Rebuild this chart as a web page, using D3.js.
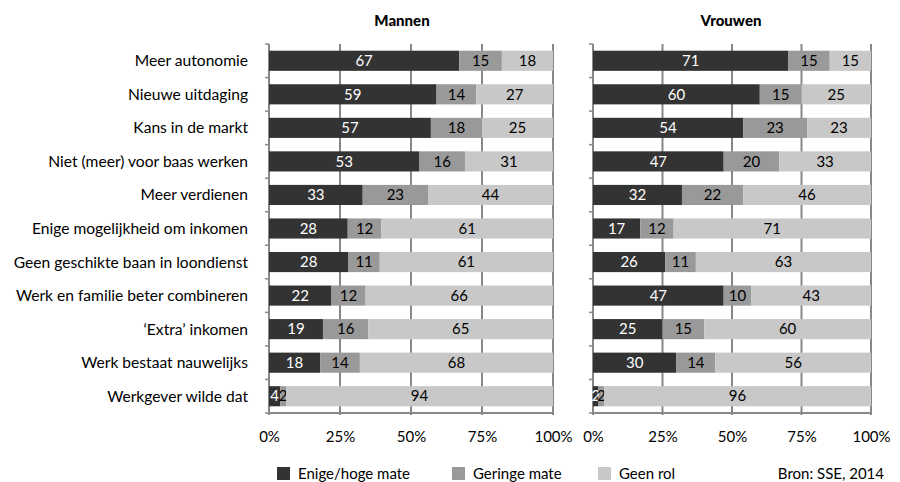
<!DOCTYPE html>
<html>
<head>
<meta charset="utf-8">
<script src="https://cdn.jsdelivr.net/npm/d3@7"></script>
<style>
  body { margin: 0; background: #fff; }
  svg { font-family: Lato, "Open Sans", sans-serif; }
</style>
</head>
<body>
<svg id="chart" width="900" height="482"></svg>
<script>
// data
const categories = [
  "Meer autonomie",
  "Nieuwe uitdaging",
  "Kans in de markt",
  "Niet (meer) voor baas werken",
  "Meer verdienen",
  "Enige mogelijkheid om inkomen",
  "Geen geschikte baan in loondienst",
  "Werk en familie beter combineren",
  "\u2018Extra\u2019 inkomen",
  "Werk bestaat nauwelijks",
  "Werkgever wilde dat"
];
const seriesNames = ["Enige/hoge mate", "Geringe mate", "Geen rol"];

const mannenHoog    = [67, 59, 57, 53, 33, 28, 28, 22, 19, 18, 4];
const mannenGering  = [15, 14, 18, 16, 23, 12, 11, 12, 16, 14, 2];
const mannenGeen    = [18, 27, 25, 31, 44, 61, 61, 66, 65, 68, 94];

const vrouwenHoog   = [71, 60, 54, 47, 32, 17, 26, 47, 25, 30, 2];
const vrouwenGering = [15, 15, 23, 20, 22, 12, 11, 10, 15, 14, 2];
const vrouwenGeen   = [15, 25, 23, 33, 46, 71, 63, 43, 60, 56, 96];

const tickValues = [0, 0.25, 0.5, 0.75, 1];
const source = "Bron: SSE, 2014";

const colors = ["#333333", "#999999", "#c8c8c8"];
const textColors = ["#ffffff", "#000000", "#000000"];
const gridColor = "#888888";

const svg = d3.select("#chart");
const plotTop = 44, plotBottom = 413;

const y = d3.scaleBand()
  .domain(categories)
  .range([plotTop, plotBottom])
  .paddingInner(0.4)
  .paddingOuter(0.2);

const color = d3.scaleOrdinal().domain(seriesNames).range(colors);

function buildRows(a, b, c) {
  return categories.map((cat, i) => ({
    cat: cat,
    [seriesNames[0]]: a[i],
    [seriesNames[1]]: b[i],
    [seriesNames[2]]: c[i]
  }));
}

const stack = d3.stack()
  .keys(seriesNames)
  .offset(d3.stackOffsetExpand);

function drawPanel(title, rows, x0, x1, titleX) {
  const x = d3.scaleLinear().domain([0, 1]).range([x0, x1]);
  const g = svg.append("g");

  // grid lines (behind bars)
  g.selectAll("line.grid")
    .data(tickValues.slice(1))
    .join("line")
    .attr("class", "grid")
    .attr("x1", d => x(d)).attr("x2", d => x(d))
    .attr("y1", plotTop).attr("y2", plotBottom + 2)
    .attr("stroke", gridColor)
    .attr("stroke-width", 2);

  // left axis line with small ticks between categories
  g.append("line")
    .attr("x1", x(0)).attr("x2", x(0))
    .attr("y1", plotTop).attr("y2", plotBottom + 2)
    .attr("stroke", gridColor)
    .attr("stroke-width", 2);

  const bounds = d3.range(categories.length + 1).map(i => plotTop + i * y.step());
  g.selectAll("line.ytick")
    .data(bounds)
    .join("line")
    .attr("class", "ytick")
    .attr("x1", x(0) - 4).attr("x2", x(0))
    .attr("y1", d => d).attr("y2", d => d)
    .attr("stroke", gridColor)
    .attr("stroke-width", 1.5);

  // bottom axis line
  g.append("line")
    .attr("x1", x(0)).attr("x2", x(1))
    .attr("y1", plotBottom).attr("y2", plotBottom)
    .attr("stroke", gridColor)
    .attr("stroke-width", 2);

  const series = stack(rows);

  const layer = g.selectAll("g.layer")
    .data(series)
    .join("g")
    .attr("class", "layer")
    .attr("fill", d => color(d.key));

  layer.selectAll("rect")
    .data(d => d)
    .join("rect")
    .attr("x", d => x(d[0]))
    .attr("y", d => y(d.data.cat))
    .attr("width", d => x(d[1]) - x(d[0]))
    .attr("height", y.bandwidth());

  layer.selectAll("text")
    .data((d, i) => d.map(v => ({ v: v, key: d.key, i: i })))
    .join("text")
    .attr("x", d => (x(d.v[0]) + x(d.v[1])) / 2)
    .attr("y", d => y(d.v.data.cat) + y.bandwidth() / 2)
    .attr("dy", "0.35em")
    .attr("text-anchor", "middle")
    .attr("font-size", 15)
    .attr("fill", d => textColors[d.i])
    .text(d => d.v.data[d.key]);

  // bottom tick labels
  g.append("g")
    .attr("transform", `translate(0,${plotBottom + 15})`)
    .call(d3.axisBottom(x).tickValues(tickValues).tickFormat(d3.format(".0%")).tickSize(0))
    .call(a => a.select(".domain").remove())
    .selectAll("text")
    .attr("font-family", "Lato, 'Open Sans', sans-serif")
    .attr("font-size", 15)
    .attr("fill", "#000");

  g.append("text")
    .attr("x", titleX)
    .attr("y", 26)
    .attr("text-anchor", "middle")
    .attr("font-size", 15)
    .attr("font-weight", 900)
    .text(title);
}

// category labels
svg.append("g")
  .selectAll("text")
  .data(categories)
  .join("text")
  .attr("x", 248)
  .attr("y", d => y(d) + y.bandwidth() / 2)
  .attr("dy", "0.35em")
  .attr("text-anchor", "end")
  .attr("font-size", 15.6)
  .text(d => d);

drawPanel("Mannen", buildRows(mannenHoog, mannenGering, mannenGeen), 269, 553, 402);
drawPanel("Vrouwen", buildRows(vrouwenHoog, vrouwenGering, vrouwenGeen), 593, 871, 731);

// legend
const legendX = [277, 452, 598];
const legend = svg.append("g")
  .selectAll("g")
  .data(seriesNames)
  .join("g")
  .attr("transform", (d, i) => `translate(${legendX[i]},467)`);

legend.append("rect")
  .attr("width", 13).attr("height", 13)
  .attr("fill", d => color(d));

legend.append("text")
  .attr("x", 21)
  .attr("y", 7)
  .attr("dy", "0.35em")
  .attr("font-size", 15)
  .text(d => d);

svg.append("text")
  .attr("x", 884)
  .attr("y", 474)
  .attr("dy", "0.35em")
  .attr("text-anchor", "end")
  .attr("font-size", 15)
  .text(source);
</script>
</body>
</html>
